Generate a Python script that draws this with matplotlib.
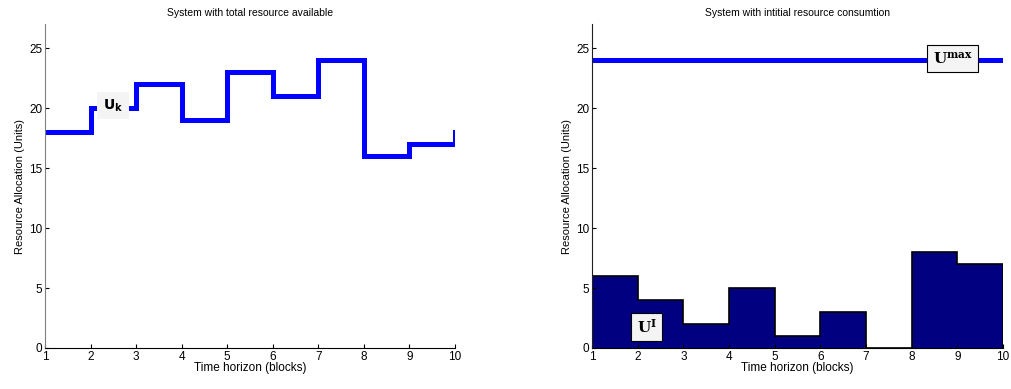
import numpy as np
import matplotlib.pyplot as plt

# time blocks (edges) and values per block
edges = [1, 2, 3, 4, 5, 6, 7, 8, 9, 10]
total_avail = [18, 20, 22, 19, 23, 21, 24, 16, 17]
end_value = 18
initial_use = [6, 4, 2, 5, 1, 3, 0, 8, 7]
u_max = 24

plt.rcParams['font.family'] = ['Liberation Sans', 'DejaVu Sans']
plt.rcParams['font.size'] = 8

fig = plt.figure(figsize=(10.11, 3.89), dpi=100)
ax1 = fig.add_axes([0.0445, 0.1054, 0.4055, 0.8326])
ax2 = fig.add_axes([0.5856, 0.1054, 0.4064, 0.8326])

blue = '#0000ff'
navy = '#000080'

# left: step line of total resource
ax1.step(edges, total_avail + [total_avail[-1]], where='post', color=blue, lw=3.6,
         solid_joinstyle='miter')
ax1.plot([edges[-1], edges[-1]], [total_avail[-1], end_value], color=blue, lw=3.6)
ax1.text(2.49, 20.2, r'$\mathbf{U_k}$', ha='center', va='center', fontsize=10,
         bbox=dict(facecolor='#f4f4f4', edgecolor='none', pad=4))
ax1.set_title('System with total resource available', fontsize=7.5)

# right: initial consumption bars and max line
ax2.stairs(initial_use, edges, fill=True, facecolor=navy, edgecolor='none')
ax2.stairs(initial_use, edges, baseline=0, color='black', lw=1.2)
ax2.axhline(u_max, color=blue, lw=3.6)
ax2.text(8.9, 24.1, r'$\mathbf{U^{max}}$', ha='center', va='center', fontsize=11,
         math_fontfamily='dejavuserif',
         bbox=dict(facecolor='#f4f4f4', edgecolor='black', lw=0.8, pad=4))
ax2.text(2.2, 1.75, r'$\mathbf{U^{I}}$', ha='center', va='center', fontsize=11,
         math_fontfamily='dejavuserif',
         bbox=dict(facecolor='#f4f4f4', edgecolor='black', lw=0.8, pad=4))
ax2.set_title('System with intitial resource consumtion', fontsize=7.5)

for ax, spc in ((ax1, '#808080'), (ax2, '#202020')):
    ax.set_xlim(1, 10)
    ax.set_ylim(0, 27)
    ax.set_xticks(range(1, 11))
    ax.set_yticks([0, 5, 10, 15, 20, 25])
    ax.tick_params(direction='in', length=3, labelsize=8.5, pad=2)
    ax.spines['top'].set_visible(False)
    ax.spines['right'].set_visible(False)
    ax.spines['left'].set_color(spc)
    ax.set_xlabel('Time horizon (blocks)', fontsize=8.5, labelpad=-0.5)
    ax.set_ylabel('Resource Allocation (Units)', fontsize=8, labelpad=3)

fig.savefig('out.png', dpi=100)
